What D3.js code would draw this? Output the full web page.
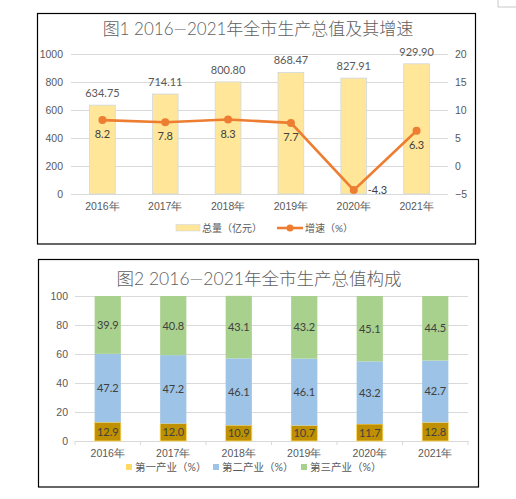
<!DOCTYPE html>
<html>
<head>
<meta charset="utf-8">
<script src="https://cdn.jsdelivr.net/npm/d3@7"></script>
<style>
  html, body { margin: 0; padding: 0; background: #fff; }
  svg { display: block; font-family: Lato, "Noto Sans CJK SC", sans-serif; }
  .tick text { fill: #595959; }
  .title { font-weight: 300; }
</style>
</head>
<body>
<svg id="chart" width="516" height="499"></svg>
<script>
// Figure 1 data
const years = ["2016年", "2017年", "2018年", "2019年", "2020年", "2021年"];
const gdpTotal = [634.75, 714.11, 800.80, 868.47, 827.91, 929.90];
const gdpGrowth = [8.2, 7.8, 8.3, 7.7, -4.3, 6.3];
const leftTicks = [0, 200, 400, 600, 800, 1000];
const rightTicks = [-5, 0, 5, 10, 15, 20];

// Figure 2 data
const primaryShare = [12.9, 12.0, 10.9, 10.7, 11.7, 12.8];
const secondaryShare = [47.2, 47.2, 46.1, 46.1, 43.2, 42.7];
const tertiaryShare = [39.9, 40.8, 43.1, 43.2, 45.1, 44.5];
const shareTicks = [0, 20, 40, 60, 80, 100];

const textColor = "#595959";
const gridColor = "#d9d9d9";
const svg = d3.select("#chart");

// little box in the top right corner
svg.append("path")
  .attr("d", "M498,0 V7 H516")
  .attr("fill", "none")
  .attr("stroke", "#c8c8c8");

// ---------- Figure 1 ----------
const g1 = svg.append("g");
g1.append("rect")
  .attr("x", 37.5).attr("y", 13.5)
  .attr("width", 438).attr("height", 230.5)
  .attr("fill", "#fff").attr("stroke", "#000").attr("stroke-width", 1.2);

g1.append("text")
  .attr("class", "title")
  .attr("x", 258).attr("y", 35)
  .attr("text-anchor", "middle")
  .attr("font-size", 17)
  .attr("fill", "#606060")
  .text("图1  2016—2021年全市生产总值及其增速");

const x1 = d3.scaleBand().domain(years).range([71, 448])
  .paddingInner(0.59).paddingOuter(0.295);
const yL = d3.scaleLinear().domain([0, 1000]).range([194, 54]);
const yR = d3.scaleLinear().domain([-5, 20]).range([194, 54]);

let leftAxis = g1.append("g")
  .attr("transform", "translate(71,0)")
  .call(d3.axisLeft(yL).tickValues(leftTicks).tickFormat(d3.format("d"))
    .tickSize(-(448 - 71)).tickPadding(8));
leftAxis.select(".domain").remove();
leftAxis.selectAll("line").attr("stroke", gridColor);
leftAxis.selectAll("text").attr("font-size", 10.5).attr("fill", textColor);

let rightAxis = g1.append("g")
  .attr("transform", "translate(448,0)")
  .call(d3.axisRight(yR).tickValues(rightTicks).tickFormat(d3.format("d"))
    .tickSize(0).tickPadding(7));
rightAxis.select(".domain").remove();
rightAxis.selectAll("text").attr("font-size", 10.5).attr("fill", textColor);

let xAxis1 = g1.append("g")
  .attr("transform", "translate(0,194)")
  .call(d3.axisBottom(x1).tickSize(0).tickPadding(9));
xAxis1.select(".domain").remove();
xAxis1.selectAll("text").attr("font-size", 10.5).attr("fill", textColor);

g1.selectAll(".bar")
  .data(gdpTotal)
  .enter()
  .append("rect")
  .attr("class", "bar")
  .attr("x", (d, i) => x1(years[i]))
  .attr("y", d => yL(d))
  .attr("width", x1.bandwidth())
  .attr("height", d => yL(0) - yL(d))
  .attr("fill", "#ffe699")
  .attr("stroke", "#cfd8e3")
  .attr("stroke-width", 0.8);

g1.selectAll(".bar-label")
  .data(gdpTotal)
  .enter()
  .append("text")
  .attr("class", "bar-label")
  .attr("x", (d, i) => x1(years[i]) + x1.bandwidth() / 2)
  .attr("y", d => yL(d) - 8)
  .attr("text-anchor", "middle")
  .attr("font-size", 11)
  .attr("fill", textColor)
  .text(d => d.toFixed(2));

const cx = (d, i) => x1(years[i]) + x1.bandwidth() / 2;
const line = d3.line()
  .x(cx)
  .y(d => yR(d));

g1.append("path")
  .datum(gdpGrowth)
  .attr("d", line)
  .attr("fill", "none")
  .attr("stroke", "#ed7d31")
  .attr("stroke-width", 2.6);

g1.selectAll(".dot")
  .data(gdpGrowth)
  .enter()
  .append("circle")
  .attr("class", "dot")
  .attr("cx", cx)
  .attr("cy", d => yR(d))
  .attr("r", 4)
  .attr("fill", "#ed7d31");

// growth labels sit under the point, the negative one to its right
g1.selectAll(".growth-label")
  .data(gdpGrowth)
  .enter()
  .append("text")
  .attr("class", "growth-label")
  .attr("x", (d, i) => d < 0 ? cx(d, i) + 14 : cx(d, i))
  .attr("y", d => d < 0 ? yR(d) + 4 : yR(d) + 18)
  .attr("text-anchor", d => d < 0 ? "start" : "middle")
  .attr("font-size", 11)
  .attr("fill", "#404040")
  .text(d => d.toFixed(1));

// legend 1
let legend1 = g1.append("g");
legend1.append("rect")
  .attr("x", 176).attr("y", 224.5).attr("width", 24).attr("height", 6.5)
  .attr("fill", "#ffe699").attr("stroke", "#cfd8e3").attr("stroke-width", 0.6);
legend1.append("text")
  .attr("x", 202).attr("y", 231.5)
  .attr("font-size", 10).attr("fill", textColor)
  .text("总量（亿元）");
legend1.append("line")
  .attr("x1", 277).attr("x2", 303).attr("y1", 228).attr("y2", 228)
  .attr("stroke", "#ed7d31").attr("stroke-width", 2.6);
legend1.append("circle")
  .attr("cx", 290).attr("cy", 228).attr("r", 3.5).attr("fill", "#ed7d31");
legend1.append("text")
  .attr("x", 305).attr("y", 231.5)
  .attr("font-size", 10).attr("fill", textColor)
  .text("增速（%）");

// ---------- Figure 2 ----------
const g2 = svg.append("g");
g2.append("rect")
  .attr("x", 38.5).attr("y", 259.5)
  .attr("width", 440).attr("height", 227.5)
  .attr("fill", "#fff").attr("stroke", "#000").attr("stroke-width", 1.2);

g2.append("text")
  .attr("class", "title")
  .attr("x", 259).attr("y", 285)
  .attr("text-anchor", "middle")
  .attr("font-size", 17.5)
  .attr("fill", "#606060")
  .text("图2  2016—2021年全市生产总值构成");

const x2 = d3.scaleBand().domain(years).range([75, 468])
  .paddingInner(0.6).paddingOuter(0.3);
const y2 = d3.scaleLinear().domain([0, 100]).range([441, 296]);

let yAxis2 = g2.append("g")
  .attr("transform", "translate(75,0)")
  .call(d3.axisLeft(y2).tickValues(shareTicks).tickSize(-(468 - 75)).tickPadding(7));
yAxis2.select(".domain").remove();
yAxis2.selectAll("line").attr("stroke", gridColor);
yAxis2.selectAll("text").attr("font-size", 10.5).attr("fill", textColor);

let xAxis2 = g2.append("g")
  .attr("transform", "translate(0,441)")
  .call(d3.axisBottom(x2).tickSize(0).tickPadding(9));
xAxis2.select(".domain").attr("stroke", gridColor);
xAxis2.selectAll("text").attr("font-size", 10.5).attr("fill", textColor);

// tick marks between the categories
const edges = years.map(y => x2(y) - (x2.step() - x2.bandwidth()) / 2);
edges.push(x2.range()[1]);
xAxis2.selectAll(".edge")
  .data(edges)
  .enter()
  .append("line")
  .attr("class", "edge")
  .attr("x1", d => d).attr("x2", d => d)
  .attr("y1", 0).attr("y2", 4)
  .attr("stroke", gridColor);

const stackRows = years.map((y, i) => ({
  year: y,
  primary: primaryShare[i],
  secondary: secondaryShare[i],
  tertiary: tertiaryShare[i]
}));
const keys = ["primary", "secondary", "tertiary"];
const fills = { primary: "#bf9000", secondary: "#9dc3e6", tertiary: "#a9d18e" };
const strokes = { primary: "#ffd966", secondary: "none", tertiary: "none" };
const series = d3.stack().keys(keys)(stackRows);

series.forEach(s => {
  g2.selectAll(".seg-" + s.key)
    .data(s)
    .enter()
    .append("rect")
    .attr("x", d => x2(d.data.year))
    .attr("y", d => y2(d[1]))
    .attr("width", x2.bandwidth())
    .attr("height", d => y2(d[0]) - y2(d[1]))
    .attr("fill", fills[s.key])
    .attr("stroke", strokes[s.key])
    .attr("stroke-width", 0.8);

  g2.selectAll(".seg-label-" + s.key)
    .data(s)
    .enter()
    .append("text")
    .attr("x", d => x2(d.data.year) + x2.bandwidth() / 2)
    .attr("y", d => (y2(d[0]) + y2(d[1])) / 2 + 4)
    .attr("text-anchor", "middle")
    .attr("font-size", 11)
    .attr("fill", "#404040")
    .text(d => d.data[s.key].toFixed(1));
});

// legend 2
const legendNames = ["第一产业（%）", "第二产业（%）", "第三产业（%）"];
const legendSwatch = ["#ffd966", "#9dc3e6", "#a9d18e"];
const legendX = [126, 213, 301];
legendNames.forEach((name, i) => {
  g2.append("rect")
    .attr("x", legendX[i]).attr("y", 464)
    .attr("width", 6).attr("height", 6)
    .attr("fill", legendSwatch[i]);
  g2.append("text")
    .attr("x", legendX[i] + 9).attr("y", 471)
    .attr("font-size", 10.5).attr("fill", textColor)
    .text(name);
});
</script>
</body>
</html>
